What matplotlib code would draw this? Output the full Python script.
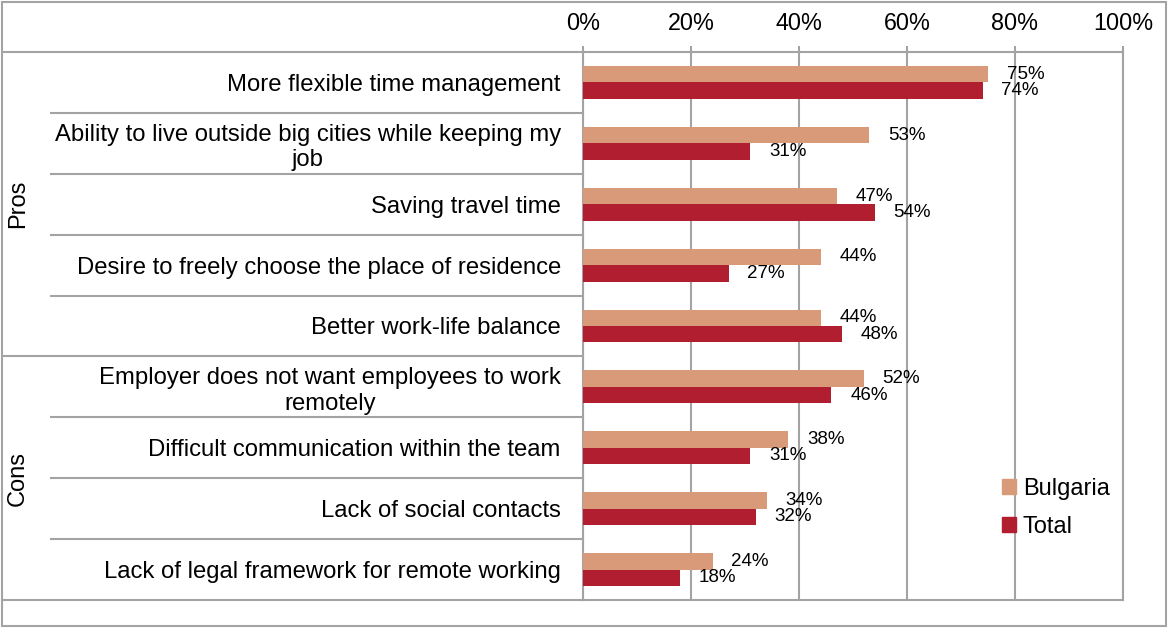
import matplotlib
matplotlib.use('Agg')
import matplotlib.pyplot as plt
import matplotlib.transforms as mtransforms
from matplotlib.patches import Patch, Rectangle
from matplotlib.ticker import FuncFormatter

categories = [
    'More flexible time management',
    'Ability to live outside big cities while keeping my\njob',
    'Saving travel time',
    'Desire to freely choose the place of residence',
    'Better work-life balance',
    'Employer does not want employees to work\nremotely',
    'Difficult communication within the team',
    'Lack of social contacts',
    'Lack of legal framework for remote working',
]
groups = ['Pros', 'Cons']
group_sizes = [5, 4]
bulgaria = [75, 53, 47, 44, 44, 52, 38, 34, 24]
total = [74, 31, 54, 27, 48, 46, 31, 32, 18]

c_bg = '#D89A78'
c_tot = '#B01E2F'
c_line = '#A3A3A3'

plt.rcParams['font.family'] = ['Liberation Sans', 'DejaVu Sans']

fig = plt.figure(figsize=(11.69, 6.28), dpi=100)
ax = fig.add_axes([583 / 1169, 1 - 600 / 628, 540 / 1169, 548 / 628])

pos = list(range(len(categories)))
h = 0.27
ax.barh([p - h / 2 for p in pos], bulgaria, height=h, color=c_bg, label='Bulgaria', zorder=3)
ax.barh([p + h / 2 for p in pos], total, height=h, color=c_tot, label='Total', zorder=3)

for p, v in zip(pos, bulgaria):
    ax.annotate(f'{v}%', (v, p - h / 2), xytext=(27, 0), textcoords='offset points',
                ha='center', va='center', fontsize=13.5)
for p, v in zip(pos, total):
    ax.annotate(f'{v}%', (v, p + h / 2), xytext=(27, 0), textcoords='offset points',
                ha='center', va='center', fontsize=13.5)

ax.set_xlim(0, 100)
ax.set_ylim(len(categories) - 0.5, -0.5)
ax.xaxis.tick_top()
ax.set_xticks(range(0, 101, 20))
ax.xaxis.set_major_formatter(FuncFormatter(lambda x, _: f'{x:.0f}%'))
ax.tick_params(axis='x', length=4, width=1.5, color=c_line, pad=8, labelsize=16.8)
ax.grid(axis='x', color=c_line, linewidth=1.5, zorder=0)
ax.set_axisbelow(True)
for s in ax.spines.values():
    s.set_color(c_line)
    s.set_linewidth(1.5)

ax.set_yticks(pos)
ax.set_yticklabels(categories, fontsize=17.2)
ax.tick_params(axis='y', length=0, pad=16)
for t in ax.get_yticklabels():
    t.set_multialignment('center')

# table-style lines left of the plot
tr = mtransforms.blended_transform_factory(ax.transAxes, ax.transData)
x_full = (3 - 583) / 540
x_cat = (51 - 583) / 540
bounds = [-0.5]
acc = -0.5
for n in group_sizes:
    acc += n
    bounds.append(acc)
for b in bounds:
    ax.plot([x_full, 0], [b, b], color=c_line, lw=1.5, transform=tr, clip_on=False)
for b in [p + 0.5 for p in pos[:-1]]:
    if b not in bounds:
        ax.plot([x_cat, 0], [b, b], color=c_line, lw=1.5, transform=tr, clip_on=False)

start = -0.5
for g, n in zip(groups, group_sizes):
    ax.text((18 - 583) / 540, start + n / 2, g, rotation=90, ha='center', va='center',
            fontsize=17, transform=tr)
    start += n

ax.legend(handles=[Patch(color=c_bg, label='Bulgaria'), Patch(color=c_tot, label='Total')],
          loc='center left', bbox_to_anchor=(0.775, 0.168), frameon=False, fontsize=17,
          handlelength=0.6, handleheight=0.6, handletextpad=0.3, labelspacing=0.7,
          borderpad=0, borderaxespad=0)

fig.patches.append(Rectangle((2 / 1169, 2 / 628), 1164 / 1169, 624 / 628, transform=fig.transFigure,
                             fill=False, edgecolor=c_line, linewidth=1.5))

fig.savefig('out.png', dpi=100)
